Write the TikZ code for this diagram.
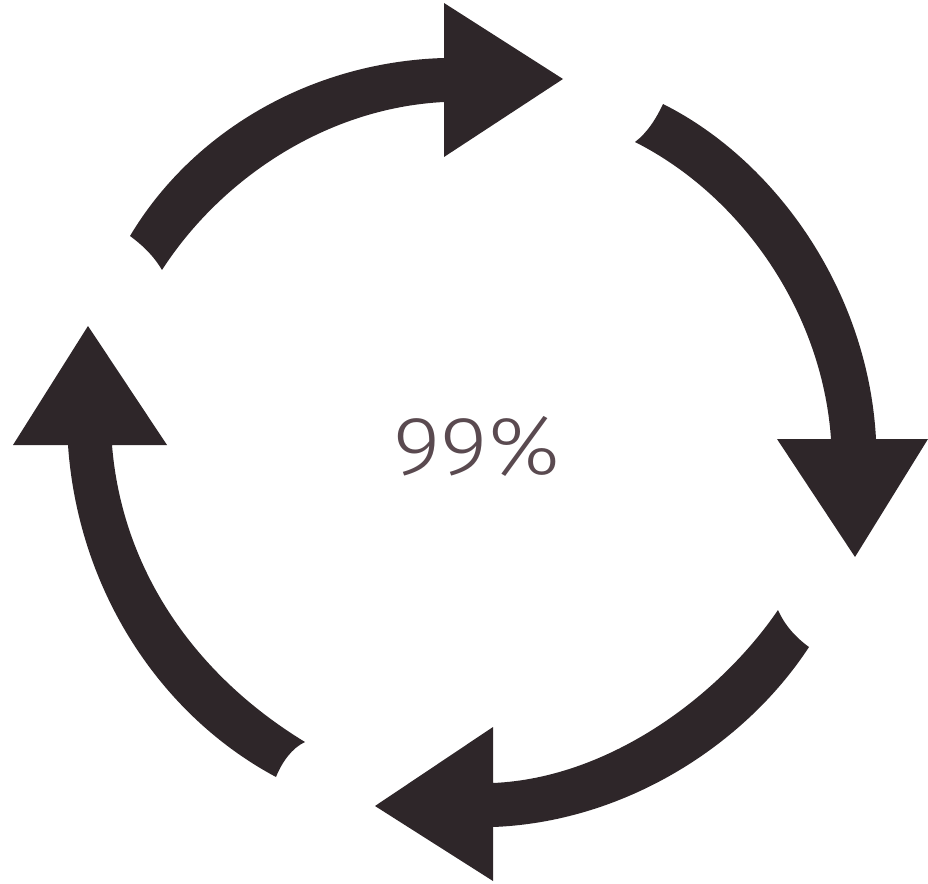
\documentclass[tikz,border=0pt]{standalone}
\usepackage{fontspec}
\newfontfamily\pctfont[UprightFont=*-Light, FakeStretch=1.1]{Fira Sans}
\definecolor{arrowdark}{RGB}{46,38,41}
\definecolor{pctgray}{RGB}{90,74,80}
\tikzset{cyclearrow/.style={fill=arrowdark, draw=none}}
\begin{document}
\begin{tikzpicture}[x=0.75pt, y=-0.75pt]
    \useasboundingbox (0, 0) rectangle (928, 884);

    % Draw top arrow
    \fill[cyclearrow] (130, 236) .. controls (192, 132) and (310, 62) .. (444, 58)
        -- (444, 3) -- (563, 79) -- (444, 157) -- (444, 102)
        .. controls (325, 108) and (220, 180) .. (162, 270)
        .. controls (155, 258) and (145, 247) .. cycle;

    % Draw right arrow
    \fill[cyclearrow] (663, 104) .. controls (775, 160) and (868, 290) .. (876, 439)
        -- (928, 439) -- (855, 557) -- (777, 439) -- (831, 439)
        .. controls (822, 310) and (740, 195) .. (635, 142)
        .. controls (647, 133) and (656, 119) .. cycle;

    % Draw bottom arrow
    \fill[cyclearrow] (809, 647) .. controls (745, 745) and (625, 822) .. (493, 827)
        -- (493, 881) -- (375, 806) -- (493, 727) -- (493, 783)
        .. controls (610, 778) and (720, 695) .. (778, 610)
        .. controls (784, 624) and (795, 637) .. cycle;

    % Draw left arrow
    \fill[cyclearrow] (276, 777) .. controls (160, 715) and (78, 590) .. (68, 445)
        -- (13, 445) -- (88, 326) -- (167, 445) -- (112, 445)
        .. controls (122, 570) and (195, 675) .. (305, 742)
        .. controls (292, 748) and (282, 762) .. cycle;

    \node[text=pctgray, font=\pctfont\fontsize{62}{62}\selectfont, inner sep=0pt] (pct) at (477, 446) {99\%};
\end{tikzpicture}
\end{document}
